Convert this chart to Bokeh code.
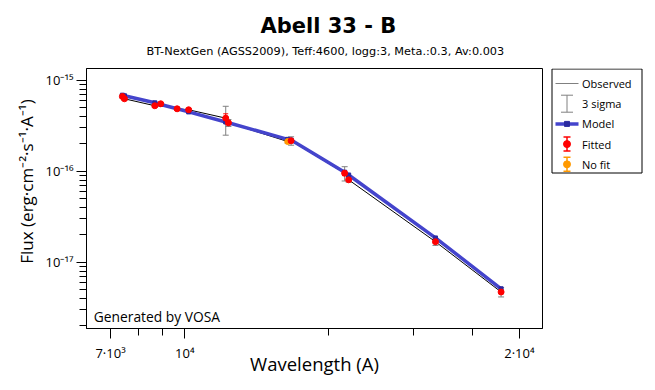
import math
from bokeh.plotting import figure
from bokeh.layouts import row
from bokeh.core.properties import value
from bokeh.models import (ColumnDataSource, Whisker, FixedTicker, Label,
                          TeeHead, Range1d, Title)
from bokeh.embed import file_html
from bokeh.resources import INLINE

FONT = "Open Sans"
TFONT = "DejaVu Sans"

# ---- data ----
wavelength = [7410, 7484, 8660, 8910, 9640, 10190, 12180, 12340,
              16410, 16680, 21580, 22000, 33400, 45800]
obs_flux = [6.67e-16, 6.29e-16, 5.27e-16, 5.54e-16, 4.88e-16, 4.76e-16, 3.85e-16, 3.42e-16,
            2.13e-16, 2.17e-16, 9.54e-17, 8.07e-17, 1.68e-17, 4.70e-18]
obs_err = [8e-18, 8e-18, 6e-18, 6e-18, 5e-18, 5e-18, 4.5e-17, 1.0e-17,
           3e-18, 7.7e-18, 5.7e-18, 1.5e-18, 5e-19, 1.85e-19]
model_flux = [6.89e-16, 6.79e-16, 5.68e-16, 5.44e-16, 4.88e-16, 4.51e-16, 3.49e-16, 3.43e-16,
              2.25e-16, 2.21e-16, 9.79e-17, 9.12e-17, 1.85e-17, 5.10e-18]
fitted = [True, True, True, True, True, True, True, True,
          False, True, True, True, True, True]

x_major_ticks = [7000, 10000, 50000]
x_major_labels = ["7·10³", "10⁴", "2·10⁴"]
x_minor_ticks = [8000, 9000, 20000, 30000, 40000]
y_major_ticks = [1e-15, 1e-16, 1e-17]
y_major_labels = ["10⁻¹⁵", "10⁻¹⁶", "10⁻¹⁷"]
y_minor_ticks = [k * 10.0 ** e for e in (-18, -17, -16) for k in range(2, 10)]

title_text = "Abell 33 - B"
subtitle_text = "BT-NextGen (AGSS2009), Teff:4600, logg:3, Meta.:0.3, Av:0.003"
x_title = "Wavelength (A)"
y_title = "\u2003\u2003Flux (erg·cm⁻²·s⁻¹·A⁻¹)"
legend_labels = ["Observed", "3 sigma", "Model", "Fitted", "No fit"]

GRAY = "#808080"
BLUE = "#4444cc"
DBLUE = "#2a2aa0"
RED = "#ff0000"
ORANGE = "#ff9900"

# ---- sources ----
def split(flag):
    idx = [i for i, f in enumerate(fitted) if f == flag]
    return ColumnDataSource(dict(
        x=[wavelength[i] for i in idx],
        y=[obs_flux[i] for i in idx],
        lo1=[obs_flux[i] - obs_err[i] for i in idx],
        hi1=[obs_flux[i] + obs_err[i] for i in idx],
    ))

src_fit = split(True)
src_nofit = split(False)
src_all = ColumnDataSource(dict(
    x=wavelength, y=obs_flux, m=model_flux,
    lo3=[f - 3 * e for f, e in zip(obs_flux, obs_err)],
    hi3=[f + 3 * e for f, e in zip(obs_flux, obs_err)],
))

FRAME_TOP, FRAME_BOTTOM = 68, 328
p = figure(width=547, height=390, x_axis_type="log", y_axis_type="log",
           x_range=Range1d(6235, 55890), y_range=Range1d(1.863e-18, 1.355e-15),
           output_backend="svg", toolbar_location=None, title=None,
           min_border_left=86, min_border_right=5, min_border_top=FRAME_TOP,
           min_border_bottom=390 - FRAME_BOTTOM)
p.grid.visible = False
p.outline_line_color = "black"
p.outline_line_width = 1
p.background_fill_color = "white"
p.border_fill_color = "white"

# observed line
p.line("x", "y", source=src_all, line_color="black", line_width=1)
# model
p.line("x", "m", source=src_all, line_color=BLUE, line_width=3.5)
p.scatter("x", "m", source=src_all, marker="square", size=4, fill_color=DBLUE, line_color=DBLUE)

# 3 sigma whiskers
w3 = Whisker(base="x", lower="lo3", upper="hi3", source=src_all, dimension="height",
             line_color=GRAY, line_width=1,
             lower_head=TeeHead(size=6, line_color=GRAY, line_width=1),
             upper_head=TeeHead(size=6, line_color=GRAY, line_width=1))
p.add_layout(w3)
for src, col in ((src_nofit, ORANGE), (src_fit, RED)):
    w1 = Whisker(base="x", lower="lo1", upper="hi1", source=src, dimension="height",
                 line_color=col, line_width=1,
                 lower_head=TeeHead(size=5, line_color=col, line_width=1),
                 upper_head=TeeHead(size=5, line_color=col, line_width=1))
    p.add_layout(w1)
    p.scatter("x", "y", source=src, marker="circle", size=6, fill_color=col, line_color=col)

# titles (subtitle first: later ones stack further out)
p.add_layout(Title(text=subtitle_text, align="left", offset=60, text_font=TFONT,
                   text_font_size="11.3px", text_font_style="normal", text_color="black",
                   standoff=22), "above")
p.add_layout(Title(text=title_text, align="left", offset=174, text_font=TFONT,
                   text_font_size="21px", text_font_style="bold", text_color="black",
                   standoff=-12), "above")

# axes
xa = p.xaxis[0]
xa.ticker = FixedTicker(ticks=x_major_ticks, minor_ticks=x_minor_ticks)
xa.major_label_overrides = dict(zip(x_major_ticks, x_major_labels))
ya = p.yaxis[0]
ya.ticker = FixedTicker(ticks=y_major_ticks, minor_ticks=y_minor_ticks)
ya.major_label_overrides = dict(zip(y_major_ticks, y_major_labels))
for ax in (xa, ya):
    ax.axis_line_color = "black"
    ax.major_tick_line_color = "black"
    ax.minor_tick_line_color = "black"
    ax.major_tick_in = 0
    ax.minor_tick_in = 0
    ax.major_tick_out = 10
    ax.minor_tick_out = 7
    ax.major_label_text_font = FONT
    ax.major_label_text_font_size = "13px"
    ax.major_label_text_color = "black"
    ax.axis_label_text_font = FONT
    ax.axis_label_text_font_style = "normal"
    ax.axis_label_text_color = "black"
xa.major_label_standoff = 5
ya.major_label_standoff = 3
xa.axis_label = x_title
xa.axis_label_text_font_size = "18.5px"
xa.axis_label_standoff = -14
ya.axis_label = y_title
ya.axis_label_text_font_size = "17px"
ya.axis_label_standoff = 5

p.add_layout(Label(x=7.3, y=12.3, x_units="screen", y_units="screen", text="Generated by VOSA",
                   text_font=FONT, text_font_size="13.8px",
                   text_align="left", text_baseline="alphabetic", text_color="black"))

# ---- legend panel: a small figure whose frame (aligned with the main frame) uses page pixels ----
LG_X0, LG_W = 547, 108
lg = figure(width=LG_W, height=390, output_backend="svg", toolbar_location=None, title=None,
            x_range=Range1d(LG_X0, LG_X0 + LG_W), y_range=Range1d(FRAME_BOTTOM, FRAME_TOP),
            x_axis_location=None, y_axis_location=None,
            min_border_left=0, min_border_right=0, min_border_top=FRAME_TOP,
            min_border_bottom=390 - FRAME_BOTTOM)
lg.grid.visible = False
lg.outline_line_color = None
lg.background_fill_color = "white"
lg.border_fill_color = "white"

BOX_L, BOX_R, BOX_T, BOX_B = 551.5, 641.5, 68.5, 172.5
ROW0, ROW_STEP = 83.0, 20.2
SW_X0, SW_X1 = 555.0, 578.0
SW_XC = (SW_X0 + SW_X1) / 2
TEXT_X = 581.5
rows = [ROW0 + ROW_STEP * i for i in range(len(legend_labels))]

lg.quad(left=[BOX_L], right=[BOX_R], top=[BOX_T], bottom=[BOX_B],
        fill_color="white", line_color="black", line_width=1)
# Observed
lg.segment(x0=[SW_X0], y0=[rows[0]], x1=[SW_X1], y1=[rows[0]], line_color=GRAY, line_width=1)
# 3 sigma (I-bar)
hb, cw = 8.5, 6.0
lg.segment(x0=[SW_XC, SW_XC - cw, SW_XC - cw], y0=[rows[1] - hb, rows[1] - hb, rows[1] + hb],
           x1=[SW_XC, SW_XC + cw, SW_XC + cw], y1=[rows[1] + hb, rows[1] - hb, rows[1] + hb],
           line_color=GRAY, line_width=1)
# Model
lg.segment(x0=[SW_X0], y0=[rows[2]], x1=[SW_X1], y1=[rows[2]], line_color=BLUE, line_width=3.5)
lg.scatter(x=[SW_XC], y=[rows[2]], marker="square", size=5, fill_color=DBLUE, line_color=DBLUE)
# Fitted / No fit (dot with error bar)
hb2, cw2 = 7.0, 3.5
for r, col in ((rows[3], RED), (rows[4], ORANGE)):
    lg.segment(x0=[SW_XC, SW_XC - cw2, SW_XC - cw2], y0=[r - hb2, r - hb2, r + hb2],
               x1=[SW_XC, SW_XC + cw2, SW_XC + cw2], y1=[r + hb2, r - hb2, r + hb2],
               line_color=col, line_width=1.5)
    lg.scatter(x=[SW_XC], y=[r], marker="circle", size=7, fill_color=col, line_color=col)
lg.text(x=[TEXT_X] * len(rows), y=rows, text=legend_labels, text_font=value(FONT),
        text_font_size="11px", text_baseline="middle", text_align="left", text_color="black")

layout = row(p, lg, spacing=0)
open("out.html", "w").write(file_html(layout, INLINE))
